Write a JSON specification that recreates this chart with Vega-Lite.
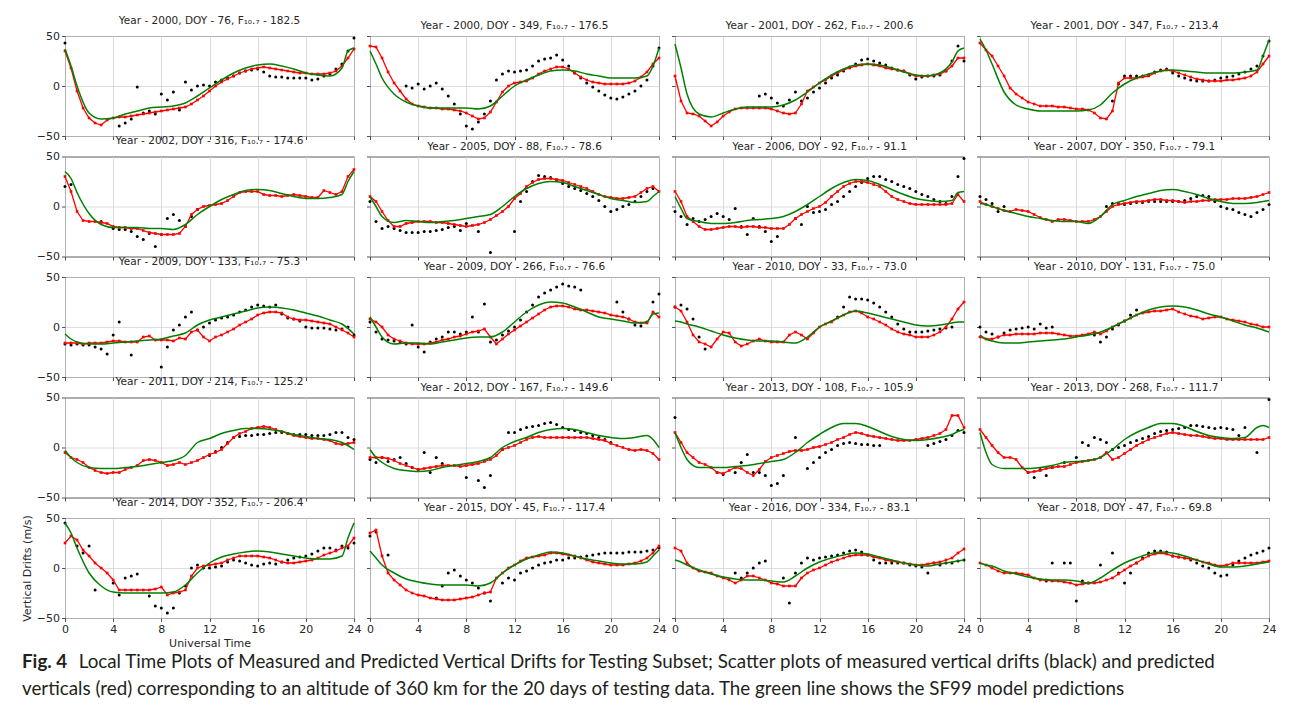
{
"$schema":"https://vega.github.io/schema/vega-lite/v6.json",
"padding":{"left":20,"top":15,"right":5,"bottom":5},
"background":"white",
"title":{"text":"Fig. 4","subtitle":["\u200b\u2003\u2003\u2003\u00a0\u00a0\u00a0Local Time Plots of Measured and Predicted Vertical Drifts for Testing Subset; Scatter plots of measured vertical drifts (black) and predicted","verticals (red) corresponding to an altitude of 360 km for the 20 days of testing data. The green line shows the SF99 model predictions"],"orient":"bottom","anchor":"start","frame":"group","dx":-43,"offset":4,"font":"Lato","fontSize":18.8,"fontWeight":"bold","color":"#231f20","subtitleFont":"Lato","subtitleFontSize":18.8,"subtitleFontWeight":"normal","subtitleColor":"#231f20","subtitlePadding":-18.8,"subtitleLineHeight":27},
"data":{"values":[
{"p":1,"x":0,"k":43,"r":35,"g":37},{"p":1,"x":0.5,"r":18,"g":20},{"p":1,"x":1,"r":-5,"g":0},{"p":1,"x":1.5,"r":-22},{"p":1,"x":2,"r":-32,"g":-27},{"p":1,"x":2.5,"r":-37},{"p":1,"x":3,"r":-39,"g":-33},{"p":1,"x":3.5,"r":-34},{"p":1,"x":4,"r":-32,"g":-32},{"p":1,"x":4.5,"k":-40,"r":-31},{"p":1,"x":5,"k":-37,"r":-31,"g":-28},{"p":1,"x":5.5,"k":-33,"r":-30},{"p":1,"x":6,"k":-1,"r":-29,"g":-25},{"p":1,"x":6.5,"k":-27,"r":-28},{"p":1,"x":7,"k":-25,"r":-27,"g":-22},{"p":1,"x":7.5,"k":-28,"r":-26},{"p":1,"x":8,"k":-8,"r":-25,"g":-21},{"p":1,"x":8.5,"k":-14,"r":-24},{"p":1,"x":9,"k":-6,"r":-23,"g":-20},{"p":1,"x":9.5,"k":-24,"r":-22},{"p":1,"x":10,"k":4,"r":-21,"g":-17},{"p":1,"x":10.5,"k":-4,"r":-18},{"p":1,"x":11,"k":0,"r":-14,"g":-10},{"p":1,"x":11.5,"k":1,"r":-10},{"p":1,"x":12,"k":0,"r":-5,"g":-2},{"p":1,"x":12.5,"k":4,"r":0},{"p":1,"x":13,"k":6,"r":4,"g":6},{"p":1,"x":13.5,"k":8,"r":7},{"p":1,"x":14,"k":10,"r":10,"g":13},{"p":1,"x":14.5,"k":13,"r":13},{"p":1,"x":15,"k":15,"r":15,"g":18},{"p":1,"x":15.5,"k":16,"r":17},{"p":1,"x":16,"k":17,"r":18,"g":21},{"p":1,"x":16.5,"k":14,"r":19},{"p":1,"x":17,"k":10,"r":18,"g":22},{"p":1,"x":17.5,"k":9,"r":17},{"p":1,"x":18,"k":9,"r":16,"g":20},{"p":1,"x":18.5,"k":8,"r":15},{"p":1,"x":19,"k":8,"r":14,"g":17},{"p":1,"x":19.5,"k":8,"r":13},{"p":1,"x":20,"k":8,"r":13,"g":13},{"p":1,"x":20.5,"k":6,"r":12},{"p":1,"x":21,"k":7,"r":12,"g":11},{"p":1,"x":21.5,"k":10,"r":12},{"p":1,"x":22,"k":12,"r":13,"g":10},{"p":1,"x":22.5,"k":17,"r":15},{"p":1,"x":23,"k":22,"r":20,"g":18},{"p":1,"x":23.5,"k":35,"r":28,"g":35},{"p":1,"x":24,"k":48,"r":37,"g":38},
{"p":2,"x":0,"r":40,"g":35},{"p":2,"x":0.5,"r":39,"g":22},{"p":2,"x":1,"r":28,"g":8},{"p":2,"x":1.5,"r":14},{"p":2,"x":2,"r":3,"g":-8},{"p":2,"x":2.5,"r":-5},{"p":2,"x":3,"k":0,"r":-13,"g":-16},{"p":2,"x":3.5,"k":-2,"r":-18},{"p":2,"x":4,"k":2,"r":-20,"g":-20},{"p":2,"x":4.5,"k":-3,"r":-21},{"p":2,"x":5,"k":0,"r":-22,"g":-22},{"p":2,"x":5.5,"k":3,"r":-22},{"p":2,"x":6,"k":-3,"r":-23,"g":-22},{"p":2,"x":6.5,"k":-10,"r":-23},{"p":2,"x":7,"k":-18,"r":-24,"g":-22},{"p":2,"x":7.5,"k":-28,"r":-25},{"p":2,"x":8,"k":-40,"r":-27,"g":-22},{"p":2,"x":8.5,"k":-43,"r":-30},{"p":2,"x":9,"k":-36,"r":-33,"g":-23},{"p":2,"x":9.5,"k":-28,"r":-32},{"p":2,"x":10,"k":-15,"r":-26,"g":-20},{"p":2,"x":10.5,"k":6,"r":-16},{"p":2,"x":11,"k":12,"r":-6,"g":-10},{"p":2,"x":11.5,"k":15,"r":0},{"p":2,"x":12,"k":14,"r":3,"g":0},{"p":2,"x":12.5,"k":15,"r":4},{"p":2,"x":13,"k":16,"r":5,"g":6},{"p":2,"x":13.5,"k":20,"r":8},{"p":2,"x":14,"k":25,"r":12,"g":11},{"p":2,"x":14.5,"k":27,"r":15},{"p":2,"x":15,"k":28,"r":17,"g":15},{"p":2,"x":15.5,"k":31,"r":19},{"p":2,"x":16,"k":26,"r":19,"g":16},{"p":2,"x":16.5,"k":20,"r":17},{"p":2,"x":17,"k":13,"r":13,"g":15},{"p":2,"x":17.5,"k":8,"r":9},{"p":2,"x":18,"k":3,"r":6,"g":12},{"p":2,"x":18.5,"k":-1,"r":4},{"p":2,"x":19,"k":-5,"r":3,"g":10},{"p":2,"x":19.5,"k":-9,"r":2},{"p":2,"x":20,"k":-12,"r":2,"g":8},{"p":2,"x":20.5,"k":-13,"r":2},{"p":2,"x":21,"k":-11,"r":2,"g":8},{"p":2,"x":21.5,"k":-8,"r":3},{"p":2,"x":22,"k":-5,"r":5,"g":8},{"p":2,"x":22.5,"k":0,"r":9},{"p":2,"x":23,"k":6,"r":14,"g":10},{"p":2,"x":23.5,"k":20,"r":22,"g":20},{"p":2,"x":24,"k":38,"r":28,"g":38},
{"p":3,"x":0,"r":10,"g":42},{"p":3,"x":0.5,"r":-15,"g":18},{"p":3,"x":1,"r":-27,"g":-8},{"p":3,"x":1.5,"r":-28},{"p":3,"x":2,"r":-30,"g":-28},{"p":3,"x":2.5,"r":-35},{"p":3,"x":3,"r":-40,"g":-31},{"p":3,"x":3.5,"r":-36},{"p":3,"x":4,"r":-30,"g":-27},{"p":3,"x":4.5,"r":-26},{"p":3,"x":5,"r":-23,"g":-23},{"p":3,"x":5.5,"r":-22},{"p":3,"x":6,"r":-22,"g":-21},{"p":3,"x":6.5,"r":-22},{"p":3,"x":7,"k":-10,"r":-22,"g":-21},{"p":3,"x":7.5,"k":-8,"r":-22},{"p":3,"x":8,"k":-12,"r":-23,"g":-21},{"p":3,"x":8.5,"k":-17,"r":-25},{"p":3,"x":9,"k":-20,"r":-27,"g":-19},{"p":3,"x":9.5,"k":-14,"r":-28},{"p":3,"x":10,"k":-6,"r":-27,"g":-14},{"p":3,"x":10.5,"k":-15,"r":-18},{"p":3,"x":11,"k":-12,"r":-5,"g":-6},{"p":3,"x":11.5,"k":-6,"r":-1},{"p":3,"x":12,"k":-2,"r":3,"g":3},{"p":3,"x":12.5,"k":3,"r":6},{"p":3,"x":13,"k":8,"r":10,"g":11},{"p":3,"x":13.5,"k":11,"r":13},{"p":3,"x":14,"k":15,"r":16,"g":17},{"p":3,"x":14.5,"k":19,"r":18},{"p":3,"x":15,"k":22,"r":20,"g":21},{"p":3,"x":15.5,"k":26,"r":21},{"p":3,"x":16,"k":27,"r":22,"g":22},{"p":3,"x":16.5,"k":25,"r":21},{"p":3,"x":17,"k":23,"r":20,"g":21},{"p":3,"x":17.5,"k":21,"r":18},{"p":3,"x":18,"k":18,"r":17,"g":18},{"p":3,"x":18.5,"k":16,"r":16},{"p":3,"x":19,"k":15,"r":15,"g":14},{"p":3,"x":19.5,"k":11,"r":12},{"p":3,"x":20,"k":7,"r":10,"g":11},{"p":3,"x":20.5,"k":9,"r":10},{"p":3,"x":21,"k":10,"r":10,"g":10},{"p":3,"x":21.5,"k":10,"r":11},{"p":3,"x":22,"k":11,"r":12,"g":13},{"p":3,"x":22.5,"k":15,"r":15},{"p":3,"x":23,"k":25,"r":20,"g":24},{"p":3,"x":23.5,"k":40,"r":28,"g":35},{"p":3,"x":24,"k":25,"r":28,"g":38},
{"p":4,"x":0,"r":43,"g":47},{"p":4,"x":0.5,"r":36,"g":36},{"p":4,"x":1,"r":30,"g":22},{"p":4,"x":1.5,"r":20},{"p":4,"x":2,"r":10,"g":-6},{"p":4,"x":2.5,"r":-2},{"p":4,"x":3,"r":-8,"g":-19},{"p":4,"x":3.5,"r":-12},{"p":4,"x":4,"r":-16,"g":-23},{"p":4,"x":4.5,"r":-18},{"p":4,"x":5,"r":-20,"g":-25},{"p":4,"x":5.5,"r":-20},{"p":4,"x":6,"r":-20,"g":-25},{"p":4,"x":6.5,"r":-21},{"p":4,"x":7,"r":-21,"g":-25},{"p":4,"x":7.5,"r":-22},{"p":4,"x":8,"r":-23,"g":-25},{"p":4,"x":8.5,"r":-23},{"p":4,"x":9,"r":-24,"g":-24},{"p":4,"x":9.5,"r":-27},{"p":4,"x":10,"r":-32,"g":-19},{"p":4,"x":10.5,"r":-33},{"p":4,"x":11,"k":-15,"r":-25,"g":-7},{"p":4,"x":11.5,"k":2,"r":3},{"p":4,"x":12,"k":10,"r":8,"g":2},{"p":4,"x":12.5,"k":10,"r":8},{"p":4,"x":13,"k":10,"r":8,"g":8},{"p":4,"x":13.5,"k":10,"r":9},{"p":4,"x":14,"k":11,"r":10,"g":12},{"p":4,"x":14.5,"k":14,"r":13},{"p":4,"x":15,"k":16,"r":15,"g":15},{"p":4,"x":15.5,"k":17,"r":16},{"p":4,"x":16,"k":13,"r":15,"g":16},{"p":4,"x":16.5,"k":10,"r":13},{"p":4,"x":17,"k":8,"r":11,"g":15},{"p":4,"x":17.5,"k":6,"r":9},{"p":4,"x":18,"k":5,"r":7,"g":14},{"p":4,"x":18.5,"k":5,"r":6},{"p":4,"x":19,"k":5,"r":5,"g":13},{"p":4,"x":19.5,"k":6,"r":5},{"p":4,"x":20,"k":8,"r":5,"g":13},{"p":4,"x":20.5,"k":9,"r":6},{"p":4,"x":21,"k":10,"r":6,"g":13},{"p":4,"x":21.5,"k":12,"r":7},{"p":4,"x":22,"k":14,"r":8,"g":14},{"p":4,"x":22.5,"k":17,"r":10},{"p":4,"x":23,"k":20,"r":14,"g":16},{"p":4,"x":23.5,"k":30,"r":22,"g":30},{"p":4,"x":24,"k":45,"r":30,"g":46},
{"p":5,"x":0,"k":20,"r":30,"g":35},{"p":5,"x":0.5,"k":22,"r":15,"g":28},{"p":5,"x":1,"r":-5,"g":14},{"p":5,"x":1.5,"r":-14},{"p":5,"x":2,"r":-15,"g":-7},{"p":5,"x":2.5,"r":-15},{"p":5,"x":3,"k":-15,"r":-16,"g":-18},{"p":5,"x":3.5,"r":-17},{"p":5,"x":4,"k":-22,"r":-20,"g":-21},{"p":5,"x":4.5,"k":-23,"r":-21},{"p":5,"x":5,"k":-23,"r":-21,"g":-21},{"p":5,"x":5.5,"k":-25,"r":-22},{"p":5,"x":6,"k":-30,"r":-22,"g":-21},{"p":5,"x":6.5,"k":-33,"r":-24},{"p":5,"x":7,"k":-27,"r":-26,"g":-22},{"p":5,"x":7.5,"k":-40,"r":-27},{"p":5,"x":8,"k":-28,"r":-28,"g":-22},{"p":5,"x":8.5,"k":-12,"r":-28},{"p":5,"x":9,"k":-8,"r":-28,"g":-23},{"p":5,"x":9.5,"k":-14,"r":-27},{"p":5,"x":10,"k":-20,"r":-20,"g":-18},{"p":5,"x":10.5,"k":-10,"r":-8},{"p":5,"x":11,"k":-3,"r":-3,"g":-8},{"p":5,"x":11.5,"r":0},{"p":5,"x":12,"r":1,"g":0},{"p":5,"x":12.5,"r":2},{"p":5,"x":13,"r":3,"g":7},{"p":5,"x":13.5,"r":6},{"p":5,"x":14,"r":10,"g":12},{"p":5,"x":14.5,"r":14},{"p":5,"x":15,"r":15,"g":16},{"p":5,"x":15.5,"r":15},{"p":5,"x":16,"r":15,"g":17},{"p":5,"x":16.5,"r":12},{"p":5,"x":17,"r":11,"g":16},{"p":5,"x":17.5,"r":11},{"p":5,"x":18,"r":10,"g":13},{"p":5,"x":18.5,"r":11},{"p":5,"x":19,"r":12,"g":10},{"p":5,"x":19.5,"r":11},{"p":5,"x":20,"r":10,"g":8},{"p":5,"x":20.5,"r":9},{"p":5,"x":21,"r":9,"g":8},{"p":5,"x":21.5,"r":16},{"p":5,"x":22,"r":14,"g":9},{"p":5,"x":22.5,"r":12},{"p":5,"x":23,"r":15,"g":12},{"p":5,"x":23.5,"r":30,"g":25},{"p":5,"x":24,"r":37,"g":35},
{"p":6,"x":0,"k":5,"r":10,"g":10},{"p":6,"x":0.5,"k":-15,"r":5,"g":0},{"p":6,"x":1,"k":-22,"r":-5,"g":-10},{"p":6,"x":1.5,"k":-20,"r":-14},{"p":6,"x":2,"k":-22,"r":-20,"g":-16},{"p":6,"x":2.5,"k":-24,"r":-20},{"p":6,"x":3,"k":-26,"r":-17,"g":-14},{"p":6,"x":3.5,"k":-26,"r":-16},{"p":6,"x":4,"k":-26,"r":-15,"g":-15},{"p":6,"x":4.5,"k":-25,"r":-15},{"p":6,"x":5,"k":-25,"r":-15,"g":-16},{"p":6,"x":5.5,"k":-24,"r":-16},{"p":6,"x":6,"k":-23,"r":-16,"g":-15},{"p":6,"x":6.5,"k":-21,"r":-17},{"p":6,"x":7,"k":-20,"r":-18,"g":-14},{"p":6,"x":7.5,"k":-24,"r":-19},{"p":6,"x":8,"k":-17,"r":-20,"g":-12},{"p":6,"x":8.5,"r":-19},{"p":6,"x":9,"k":-25,"r":-18,"g":-10},{"p":6,"x":9.5,"r":-16},{"p":6,"x":10,"k":-46,"r":-13,"g":-8},{"p":6,"x":10.5,"r":-9},{"p":6,"x":11,"r":-5,"g":0},{"p":6,"x":11.5,"r":0},{"p":6,"x":12,"k":-25,"r":8,"g":10},{"p":6,"x":12.5,"k":5,"r":13},{"p":6,"x":13,"k":15,"r":20,"g":18},{"p":6,"x":13.5,"k":25,"r":24},{"p":6,"x":14,"k":31,"r":27,"g":23},{"p":6,"x":14.5,"k":30,"r":28},{"p":6,"x":15,"k":29,"r":28,"g":25},{"p":6,"x":15.5,"k":26,"r":27},{"p":6,"x":16,"k":23,"r":26,"g":24},{"p":6,"x":16.5,"k":20,"r":24},{"p":6,"x":17,"k":18,"r":22,"g":20},{"p":6,"x":17.5,"k":16,"r":20},{"p":6,"x":18,"k":13,"r":18,"g":16},{"p":6,"x":18.5,"k":10,"r":15},{"p":6,"x":19,"k":6,"r":12,"g":12},{"p":6,"x":19.5,"k":0,"r":10},{"p":6,"x":20,"k":-5,"r":9,"g":8},{"p":6,"x":20.5,"k":-3,"r":8},{"p":6,"x":21,"k":0,"r":8,"g":6},{"p":6,"x":21.5,"k":2,"r":9},{"p":6,"x":22,"k":5,"r":10,"g":4},{"p":6,"x":22.5,"k":10,"r":14},{"p":6,"x":23,"k":15,"r":18,"g":5},{"p":6,"x":23.5,"k":18,"r":20,"g":10},{"p":6,"x":24,"r":15,"g":15},
{"p":7,"x":0,"k":-5,"r":15,"g":10},{"p":7,"x":0.5,"k":-10,"r":5,"g":-2},{"p":7,"x":1,"k":-18,"r":-10,"g":-12},{"p":7,"x":1.5,"k":-12,"r":-15},{"p":7,"x":2,"k":-15,"r":-20,"g":-15},{"p":7,"x":2.5,"k":-13,"r":-23},{"p":7,"x":3,"k":-10,"r":-23,"g":-17},{"p":7,"x":3.5,"k":-7,"r":-22},{"p":7,"x":4,"k":-10,"r":-21,"g":-17},{"p":7,"x":4.5,"k":-13,"r":-20},{"p":7,"x":5,"k":-2,"r":-20,"g":-16},{"p":7,"x":5.5,"k":-20,"r":-21},{"p":7,"x":6,"k":-28,"r":-20,"g":-14},{"p":7,"x":6.5,"k":-12,"r":-20},{"p":7,"x":7,"k":-20,"r":-21,"g":-13},{"p":7,"x":7.5,"k":-25,"r":-21},{"p":7,"x":8,"k":-35,"r":-22,"g":-12},{"p":7,"x":8.5,"k":-30,"r":-22},{"p":7,"x":9,"r":-22,"g":-10},{"p":7,"x":9.5,"r":-18},{"p":7,"x":10,"k":-12,"r":-12,"g":-5},{"p":7,"x":10.5,"k":-18,"r":-8},{"p":7,"x":11,"k":0,"r":-5,"g":2},{"p":7,"x":11.5,"k":-6,"r":-2},{"p":7,"x":12,"k":-5,"r":0,"g":10},{"p":7,"x":12.5,"k":-3,"r":4},{"p":7,"x":13,"k":2,"r":10,"g":18},{"p":7,"x":13.5,"k":5,"r":15},{"p":7,"x":14,"k":10,"r":20,"g":24},{"p":7,"x":14.5,"k":15,"r":23},{"p":7,"x":15,"k":20,"r":25,"g":27},{"p":7,"x":15.5,"k":24,"r":25},{"p":7,"x":16,"k":28,"r":24,"g":26},{"p":7,"x":16.5,"k":30,"r":22},{"p":7,"x":17,"k":30,"r":20,"g":22},{"p":7,"x":17.5,"k":27,"r":15},{"p":7,"x":18,"k":25,"r":10,"g":17},{"p":7,"x":18.5,"k":22,"r":7},{"p":7,"x":19,"k":20,"r":5,"g":12},{"p":7,"x":19.5,"k":18,"r":3},{"p":7,"x":20,"k":15,"r":2,"g":8},{"p":7,"x":20.5,"k":12,"r":2},{"p":7,"x":21,"k":10,"r":2,"g":6},{"p":7,"x":21.5,"k":7,"r":2},{"p":7,"x":22,"k":5,"r":2,"g":5},{"p":7,"x":22.5,"k":3,"r":2},{"p":7,"x":23,"k":10,"r":3,"g":6},{"p":7,"x":23.5,"k":30,"r":12,"g":14},{"p":7,"x":24,"k":48,"r":5,"g":15},
{"p":8,"x":0,"k":10,"r":5,"g":3},{"p":8,"x":0.5,"k":7,"r":2,"g":2},{"p":8,"x":1,"k":3,"r":0,"g":0},{"p":8,"x":1.5,"k":-5,"r":-2},{"p":8,"x":2,"k":0,"r":-4,"g":-4},{"p":8,"x":2.5,"r":-5},{"p":8,"x":3,"r":-3,"g":-7},{"p":8,"x":3.5,"r":-4},{"p":8,"x":4,"r":-5,"g":-10},{"p":8,"x":4.5,"r":-8},{"p":8,"x":5,"r":-11,"g":-12},{"p":8,"x":5.5,"r":-13},{"p":8,"x":6,"r":-15,"g":-14},{"p":8,"x":6.5,"r":-13},{"p":8,"x":7,"r":-13,"g":-15},{"p":8,"x":7.5,"r":-14},{"p":8,"x":8,"r":-15,"g":-15},{"p":8,"x":8.5,"r":-15},{"p":8,"x":9,"r":-15,"g":-17},{"p":8,"x":9.5,"r":-13},{"p":8,"x":10,"r":-10,"g":-10},{"p":8,"x":10.5,"k":0,"r":-5},{"p":8,"x":11,"k":3,"r":0,"g":2},{"p":8,"x":11.5,"k":3,"r":2},{"p":8,"x":12,"k":2,"r":3,"g":6},{"p":8,"x":12.5,"k":3,"r":4},{"p":8,"x":13,"k":4,"r":5,"g":10},{"p":8,"x":13.5,"k":4,"r":5},{"p":8,"x":14,"k":5,"r":6,"g":13},{"p":8,"x":14.5,"k":5,"r":7},{"p":8,"x":15,"k":5,"r":7,"g":16},{"p":8,"x":15.5,"k":5,"r":6},{"p":8,"x":16,"k":5,"r":6,"g":17},{"p":8,"x":16.5,"k":5,"r":5},{"p":8,"x":17,"k":6,"r":4,"g":15},{"p":8,"x":17.5,"k":8,"r":5},{"p":8,"x":18,"k":10,"r":5,"g":12},{"p":8,"x":18.5,"k":11,"r":6},{"p":8,"x":19,"k":10,"r":6,"g":8},{"p":8,"x":19.5,"k":5,"r":7},{"p":8,"x":20,"k":0,"r":7,"g":5},{"p":8,"x":20.5,"k":-2,"r":7},{"p":8,"x":21,"k":-3,"r":8,"g":3},{"p":8,"x":21.5,"k":-6,"r":8},{"p":8,"x":22,"k":-8,"r":8,"g":3},{"p":8,"x":22.5,"k":-10,"r":9},{"p":8,"x":23,"k":-6,"r":10,"g":4},{"p":8,"x":23.5,"k":-3,"r":12,"g":5},{"p":8,"x":24,"k":2,"r":14,"g":6},
{"p":9,"x":0,"k":-17,"r":-16,"g":-7},{"p":9,"x":0.5,"k":-18,"r":-16,"g":-12},{"p":9,"x":1,"k":-17,"r":-16,"g":-15},{"p":9,"x":1.5,"k":-18,"r":-17},{"p":9,"x":2,"k":-18,"r":-16,"g":-17},{"p":9,"x":2.5,"k":-20,"r":-16},{"p":9,"x":3,"k":-22,"r":-16,"g":-17},{"p":9,"x":3.5,"k":-27,"r":-15},{"p":9,"x":4,"k":-8,"r":-14,"g":-16},{"p":9,"x":4.5,"k":5,"r":-14},{"p":9,"x":5,"r":-15,"g":-15},{"p":9,"x":5.5,"k":-28,"r":-15},{"p":9,"x":6,"r":-15,"g":-14},{"p":9,"x":6.5,"r":-10},{"p":9,"x":7,"r":-9,"g":-13},{"p":9,"x":7.5,"r":-13},{"p":9,"x":8,"k":-40,"r":-13,"g":-12},{"p":9,"x":8.5,"k":-20,"r":-13},{"p":9,"x":9,"k":-3,"r":-14,"g":-9},{"p":9,"x":9.5,"k":2,"r":-11},{"p":9,"x":10,"k":10,"r":-12,"g":-6},{"p":9,"x":10.5,"k":15,"r":-5},{"p":9,"x":11,"k":-3,"r":-3,"g":2},{"p":9,"x":11.5,"k":0,"r":-10},{"p":9,"x":12,"k":4,"r":-14,"g":7},{"p":9,"x":12.5,"k":7,"r":-10},{"p":9,"x":13,"k":9,"r":-8,"g":10},{"p":9,"x":13.5,"k":10,"r":-5},{"p":9,"x":14,"k":12,"r":-2,"g":13},{"p":9,"x":14.5,"k":15,"r":2},{"p":9,"x":15,"k":17,"r":5,"g":16},{"p":9,"x":15.5,"k":20,"r":8},{"p":9,"x":16,"k":22,"r":12,"g":19},{"p":9,"x":16.5,"k":21,"r":14},{"p":9,"x":17,"k":20,"r":15,"g":20},{"p":9,"x":17.5,"k":22,"r":15},{"p":9,"x":18,"k":13,"r":14,"g":19},{"p":9,"x":18.5,"k":9,"r":10},{"p":9,"x":19,"k":8,"r":8,"g":17},{"p":9,"x":19.5,"k":6,"r":7},{"p":9,"x":20,"k":0,"r":7,"g":14},{"p":9,"x":20.5,"k":-1,"r":6},{"p":9,"x":21,"k":-1,"r":5,"g":11},{"p":9,"x":21.5,"k":-1,"r":4},{"p":9,"x":22,"k":-2,"r":3,"g":7},{"p":9,"x":22.5,"k":-3,"r":0},{"p":9,"x":23,"k":-2,"r":-3,"g":3},{"p":9,"x":23.5,"k":0,"r":-6},{"p":9,"x":24,"k":-8,"r":-10,"g":-7},
{"p":10,"x":0,"k":5,"r":8,"g":10},{"p":10,"x":0.5,"k":-5,"r":5,"g":0},{"p":10,"x":1,"k":-12,"r":0,"g":-10},{"p":10,"x":1.5,"k":-13,"r":-8},{"p":10,"x":2,"k":-14,"r":-12,"g":-17},{"p":10,"x":2.5,"k":-15,"r":-14},{"p":10,"x":3,"k":-17,"r":-16,"g":-16},{"p":10,"x":3.5,"k":2,"r":-17},{"p":10,"x":4,"k":-20,"r":-17,"g":-16},{"p":10,"x":4.5,"k":-25,"r":-17},{"p":10,"x":5,"k":-15,"r":-16,"g":-17},{"p":10,"x":5.5,"k":-12,"r":-15},{"p":10,"x":6,"k":-10,"r":-13,"g":-15},{"p":10,"x":6.5,"k":-5,"r":-12},{"p":10,"x":7,"k":-5,"r":-10,"g":-13},{"p":10,"x":7.5,"k":-7,"r":-9},{"p":10,"x":8,"k":-5,"r":-7,"g":-11},{"p":10,"x":8.5,"k":10,"r":-5},{"p":10,"x":9,"k":-5,"r":-4,"g":-10},{"p":10,"x":9.5,"k":23,"r":-2},{"p":10,"x":10,"k":-15,"r":-10,"g":-10},{"p":10,"x":10.5,"k":-13,"r":-17},{"p":10,"x":11,"k":-8,"r":-12,"g":-5},{"p":10,"x":11.5,"k":-4,"r":-7},{"p":10,"x":12,"k":0,"r":-3,"g":5},{"p":10,"x":12.5,"k":7,"r":1},{"p":10,"x":13,"k":15,"r":5,"g":15},{"p":10,"x":13.5,"k":22,"r":9},{"p":10,"x":14,"k":30,"r":13,"g":22},{"p":10,"x":14.5,"k":34,"r":17},{"p":10,"x":15,"k":37,"r":20,"g":25},{"p":10,"x":15.5,"k":40,"r":21},{"p":10,"x":16,"k":43,"r":21,"g":24},{"p":10,"x":16.5,"k":41,"r":20},{"p":10,"x":17,"k":40,"r":18,"g":20},{"p":10,"x":17.5,"k":37,"r":17},{"p":10,"x":18,"r":17,"g":15},{"p":10,"x":18.5,"r":16},{"p":10,"x":19,"r":15,"g":10},{"p":10,"x":19.5,"r":14},{"p":10,"x":20,"r":12,"g":8},{"p":10,"x":20.5,"k":25,"r":11},{"p":10,"x":21,"k":15,"r":10,"g":6},{"p":10,"x":21.5,"k":8,"r":8},{"p":10,"x":22,"k":2,"r":5,"g":4},{"p":10,"x":22.5,"k":1,"r":4},{"p":10,"x":23,"k":5,"r":4,"g":5},{"p":10,"x":23.5,"k":25,"r":15,"g":13},{"p":10,"x":24,"k":33,"r":10,"g":14},
{"p":11,"x":0,"k":20,"r":20,"g":6},{"p":11,"x":0.5,"k":22,"r":16,"g":5},{"p":11,"x":1,"k":18,"r":5,"g":3},{"p":11,"x":1.5,"k":8,"r":-8},{"p":11,"x":2,"k":-10,"r":-15,"g":0},{"p":11,"x":2.5,"k":-22,"r":-17},{"p":11,"x":3,"r":-20,"g":-4},{"p":11,"x":3.5,"r":-12},{"p":11,"x":4,"r":-5,"g":-8},{"p":11,"x":4.5,"r":-6},{"p":11,"x":5,"r":-15,"g":-11},{"p":11,"x":5.5,"r":-19},{"p":11,"x":6,"r":-17,"g":-13},{"p":11,"x":6.5,"r":-14},{"p":11,"x":7,"r":-12,"g":-14},{"p":11,"x":7.5,"r":-14},{"p":11,"x":8,"r":-15,"g":-14},{"p":11,"x":8.5,"r":-15},{"p":11,"x":9,"r":-15,"g":-15},{"p":11,"x":9.5,"r":-8},{"p":11,"x":10,"r":-5,"g":-16},{"p":11,"x":10.5,"r":-8},{"p":11,"x":11,"r":-12,"g":-10},{"p":11,"x":11.5,"r":-6},{"p":11,"x":12,"r":0,"g":0},{"p":11,"x":12.5,"r":3},{"p":11,"x":13,"r":5,"g":6},{"p":11,"x":13.5,"k":10,"r":9},{"p":11,"x":14,"k":20,"r":12,"g":12},{"p":11,"x":14.5,"k":30,"r":15},{"p":11,"x":15,"k":28,"r":16,"g":16},{"p":11,"x":15.5,"k":28,"r":14},{"p":11,"x":16,"k":27,"r":10,"g":14},{"p":11,"x":16.5,"k":24,"r":8},{"p":11,"x":17,"k":20,"r":5,"g":11},{"p":11,"x":17.5,"k":15,"r":2},{"p":11,"x":18,"k":10,"r":-2,"g":8},{"p":11,"x":18.5,"k":3,"r":-5},{"p":11,"x":19,"k":-2,"r":-7,"g":5},{"p":11,"x":19.5,"k":-5,"r":-8},{"p":11,"x":20,"k":-5,"r":-10,"g":2},{"p":11,"x":20.5,"k":-5,"r":-10},{"p":11,"x":21,"k":-4,"r":-10,"g":1},{"p":11,"x":21.5,"k":-3,"r":-8},{"p":11,"x":22,"k":-2,"r":-5,"g":2},{"p":11,"x":22.5,"k":-1,"r":0},{"p":11,"x":23,"k":0,"r":8,"g":4},{"p":11,"x":23.5,"r":18,"g":5},{"p":11,"x":24,"r":25,"g":5},
{"p":12,"x":0,"k":0,"r":-10,"g":-8},{"p":12,"x":0.5,"k":-5,"r":-12,"g":-12},{"p":12,"x":1,"k":-7,"r":-12,"g":-14},{"p":12,"x":1.5,"k":-10,"r":-10},{"p":12,"x":2,"k":-6,"r":-8,"g":-16},{"p":12,"x":2.5,"k":-3,"r":-8},{"p":12,"x":3,"k":-2,"r":-7,"g":-16},{"p":12,"x":3.5,"k":-1,"r":-7},{"p":12,"x":4,"k":0,"r":-7,"g":-15},{"p":12,"x":4.5,"k":-2,"r":-7},{"p":12,"x":5,"k":3,"r":-6,"g":-14},{"p":12,"x":5.5,"k":-1,"r":-6},{"p":12,"x":6,"k":0,"r":-6,"g":-13},{"p":12,"x":6.5,"r":-7},{"p":12,"x":7,"r":-8,"g":-12},{"p":12,"x":7.5,"r":-9},{"p":12,"x":8,"r":-9,"g":-10},{"p":12,"x":8.5,"r":-8},{"p":12,"x":9,"r":-7,"g":-8},{"p":12,"x":9.5,"k":-8,"r":-5},{"p":12,"x":10,"k":-15,"r":-7,"g":-5},{"p":12,"x":10.5,"k":-10,"r":-4},{"p":12,"x":11,"k":-2,"r":0,"g":0},{"p":12,"x":11.5,"k":2,"r":3},{"p":12,"x":12,"k":6,"r":6,"g":6},{"p":12,"x":12.5,"k":12,"r":9},{"p":12,"x":13,"k":17,"r":12,"g":12},{"p":12,"x":13.5,"r":14},{"p":12,"x":14,"r":15,"g":17},{"p":12,"x":14.5,"r":16},{"p":12,"x":15,"r":16,"g":20},{"p":12,"x":15.5,"r":17},{"p":12,"x":16,"r":18,"g":21},{"p":12,"x":16.5,"r":15},{"p":12,"x":17,"r":13,"g":20},{"p":12,"x":17.5,"r":11},{"p":12,"x":18,"r":10,"g":17},{"p":12,"x":18.5,"r":8},{"p":12,"x":19,"r":9,"g":13},{"p":12,"x":19.5,"r":10},{"p":12,"x":20,"r":10,"g":10},{"p":12,"x":20.5,"r":8},{"p":12,"x":21,"r":7,"g":6},{"p":12,"x":21.5,"r":6},{"p":12,"x":22,"r":5,"g":2},{"p":12,"x":22.5,"r":3},{"p":12,"x":23,"r":2,"g":-1},{"p":12,"x":23.5,"r":0},{"p":12,"x":24,"r":0,"g":-5},
{"p":13,"x":0,"r":-5,"g":-3},{"p":13,"x":0.5,"r":-10,"g":-10},{"p":13,"x":1,"r":-12,"g":-15},{"p":13,"x":1.5,"r":-15},{"p":13,"x":2,"r":-20,"g":-20},{"p":13,"x":2.5,"r":-23},{"p":13,"x":3,"r":-25,"g":-21},{"p":13,"x":3.5,"r":-26},{"p":13,"x":4,"r":-25,"g":-21},{"p":13,"x":4.5,"r":-25},{"p":13,"x":5,"r":-22,"g":-20},{"p":13,"x":5.5,"r":-20},{"p":13,"x":6,"r":-18,"g":-19},{"p":13,"x":6.5,"r":-13},{"p":13,"x":7,"r":-12,"g":-17},{"p":13,"x":7.5,"r":-13},{"p":13,"x":8,"r":-15,"g":-15},{"p":13,"x":8.5,"r":-18},{"p":13,"x":9,"r":-17,"g":-13},{"p":13,"x":9.5,"r":-15},{"p":13,"x":10,"r":-17,"g":-8},{"p":13,"x":10.5,"r":-15},{"p":13,"x":11,"r":-13,"g":5},{"p":13,"x":11.5,"r":-10},{"p":13,"x":12,"k":-8,"r":-7,"g":9},{"p":13,"x":12.5,"k":-4,"r":-5},{"p":13,"x":13,"k":0,"r":-2,"g":14},{"p":13,"x":13.5,"k":5,"r":4},{"p":13,"x":14,"k":10,"r":10,"g":17},{"p":13,"x":14.5,"k":11,"r":14},{"p":13,"x":15,"k":12,"r":16,"g":19},{"p":13,"x":15.5,"k":12,"r":19},{"p":13,"x":16,"k":13,"r":20,"g":19},{"p":13,"x":16.5,"k":13,"r":21},{"p":13,"x":17,"k":14,"r":20,"g":18},{"p":13,"x":17.5,"k":15,"r":18},{"p":13,"x":18,"k":15,"r":16,"g":16},{"p":13,"x":18.5,"k":14,"r":14},{"p":13,"x":19,"k":13,"r":12,"g":13},{"p":13,"x":19.5,"k":13,"r":11},{"p":13,"x":20,"k":13,"r":10,"g":11},{"p":13,"x":20.5,"k":12,"r":9},{"p":13,"x":21,"k":12,"r":9,"g":9},{"p":13,"x":21.5,"k":12,"r":8},{"p":13,"x":22,"k":13,"r":7,"g":8},{"p":13,"x":22.5,"k":15,"r":4},{"p":13,"x":23,"k":15,"r":3,"g":5},{"p":13,"x":23.5,"k":10,"r":4},{"p":13,"x":24,"k":8,"r":5,"g":-2},
{"p":14,"x":0,"k":-12,"r":-10,"g":-2},{"p":14,"x":0.5,"k":-15,"r":-10,"g":-10},{"p":14,"x":1,"k":-10,"r":-10,"g":-15},{"p":14,"x":1.5,"k":-14,"r":-11},{"p":14,"x":2,"k":-12,"r":-13,"g":-21},{"p":14,"x":2.5,"k":-10,"r":-16},{"p":14,"x":3,"k":-16,"r":-18,"g":-23},{"p":14,"x":3.5,"k":-20,"r":-20},{"p":14,"x":4,"k":-22,"r":-22,"g":-24},{"p":14,"x":4.5,"k":-5,"r":-21},{"p":14,"x":5,"k":-25,"r":-20,"g":-23},{"p":14,"x":5.5,"k":-10,"r":-19},{"p":14,"x":6,"k":-16,"r":-18,"g":-20},{"p":14,"x":6.5,"r":-18},{"p":14,"x":7,"r":-18,"g":-18},{"p":14,"x":7.5,"r":-19},{"p":14,"x":8,"k":-30,"r":-18,"g":-16},{"p":14,"x":8.5,"r":-17},{"p":14,"x":9,"k":-33,"r":-16,"g":-14},{"p":14,"x":9.5,"k":-40,"r":-14},{"p":14,"x":10,"k":-28,"r":-12,"g":-10},{"p":14,"x":10.5,"r":-8},{"p":14,"x":11,"k":-2,"r":-2,"g":0},{"p":14,"x":11.5,"k":15,"r":0},{"p":14,"x":12,"k":15,"r":2,"g":6},{"p":14,"x":12.5,"k":18,"r":5},{"p":14,"x":13,"k":20,"r":8,"g":10},{"p":14,"x":13.5,"k":21,"r":10},{"p":14,"x":14,"k":22,"r":11,"g":15},{"p":14,"x":14.5,"k":24,"r":10},{"p":14,"x":15,"k":25,"r":10,"g":18},{"p":14,"x":15.5,"k":23,"r":10},{"p":14,"x":16,"k":20,"r":10,"g":19},{"p":14,"x":16.5,"k":18,"r":10},{"p":14,"x":17,"k":17,"r":10,"g":18},{"p":14,"x":17.5,"k":15,"r":10},{"p":14,"x":18,"k":14,"r":10,"g":15},{"p":14,"x":18.5,"k":12,"r":9},{"p":14,"x":19,"k":10,"r":8,"g":12},{"p":14,"x":19.5,"k":8,"r":7},{"p":14,"x":20,"k":5,"r":4,"g":10},{"p":14,"x":20.5,"r":2},{"p":14,"x":21,"r":0,"g":9},{"p":14,"x":21.5,"r":-2},{"p":14,"x":22,"r":-3,"g":10},{"p":14,"x":22.5,"r":-2},{"p":14,"x":23,"r":-3,"g":12},{"p":14,"x":23.5,"r":-6,"g":8},{"p":14,"x":24,"r":-12,"g":0},
{"p":15,"x":0,"k":30,"r":15,"g":15},{"p":15,"x":0.5,"r":5,"g":0},{"p":15,"x":1,"r":-5,"g":-12},{"p":15,"x":1.5,"r":-10},{"p":15,"x":2,"r":-15,"g":-20},{"p":15,"x":2.5,"r":-17},{"p":15,"x":3,"r":-20,"g":-20},{"p":15,"x":3.5,"k":-25,"r":-25},{"p":15,"x":4,"k":-27,"r":-26,"g":-20},{"p":15,"x":4.5,"r":-23},{"p":15,"x":5,"k":-25,"r":-20,"g":-19},{"p":15,"x":5.5,"k":-15,"r":-21},{"p":15,"x":6,"k":-7,"r":-25,"g":-18},{"p":15,"x":6.5,"k":-25,"r":-28},{"p":15,"x":7,"k":-25,"r":-22,"g":-16},{"p":15,"x":7.5,"k":-28,"r":-14},{"p":15,"x":8,"k":-38,"r":-10,"g":-14},{"p":15,"x":8.5,"k":-36,"r":-8},{"p":15,"x":9,"k":-28,"r":-6,"g":-12},{"p":15,"x":9.5,"r":-4},{"p":15,"x":10,"k":10,"r":-3,"g":-5},{"p":15,"x":10.5,"r":-3},{"p":15,"x":11,"k":-21,"r":-2,"g":5},{"p":15,"x":11.5,"k":-15,"r":0},{"p":15,"x":12,"k":-10,"r":1,"g":13},{"p":15,"x":12.5,"k":-5,"r":3},{"p":15,"x":13,"k":-2,"r":5,"g":20},{"p":15,"x":13.5,"k":2,"r":8},{"p":15,"x":14,"k":4,"r":10,"g":24},{"p":15,"x":14.5,"k":5,"r":13},{"p":15,"x":15,"k":4,"r":15,"g":24},{"p":15,"x":15.5,"k":3,"r":14},{"p":15,"x":16,"k":3,"r":12,"g":21},{"p":15,"x":16.5,"k":2,"r":11},{"p":15,"x":17,"k":2,"r":10,"g":16},{"p":15,"x":17.5,"r":9},{"p":15,"x":18,"r":8,"g":11},{"p":15,"x":18.5,"r":7},{"p":15,"x":19,"r":7,"g":8},{"p":15,"x":19.5,"r":7},{"p":15,"x":20,"r":8,"g":7},{"p":15,"x":20.5,"r":9},{"p":15,"x":21,"k":2,"r":10,"g":8},{"p":15,"x":21.5,"k":4,"r":12},{"p":15,"x":22,"k":6,"r":14,"g":10},{"p":15,"x":22.5,"k":8,"r":18},{"p":15,"x":23,"k":12,"r":32,"g":13},{"p":15,"x":23.5,"k":17,"r":32,"g":16},{"p":15,"x":24,"k":15,"r":20,"g":18},
{"p":16,"x":0,"r":18,"g":15},{"p":16,"x":0.5,"r":10,"g":-5},{"p":16,"x":1,"r":2,"g":-17},{"p":16,"x":1.5,"r":-5},{"p":16,"x":2,"r":-10,"g":-21},{"p":16,"x":2.5,"r":-10},{"p":16,"x":3,"r":-12,"g":-21},{"p":16,"x":3.5,"r":-20},{"p":16,"x":4,"k":-25,"r":-25,"g":-21},{"p":16,"x":4.5,"k":-30,"r":-24},{"p":16,"x":5,"k":-22,"r":-23,"g":-20},{"p":16,"x":5.5,"k":-28,"r":-21},{"p":16,"x":6,"k":-20,"r":-20,"g":-18},{"p":16,"x":6.5,"r":-19},{"p":16,"x":7,"k":-15,"r":-19,"g":-15},{"p":16,"x":7.5,"r":-17},{"p":16,"x":8,"k":-10,"r":-15,"g":-14},{"p":16,"x":8.5,"k":5,"r":-14},{"p":16,"x":9,"k":2,"r":-13,"g":-13},{"p":16,"x":9.5,"k":10,"r":-12},{"p":16,"x":10,"k":8,"r":-10,"g":-10},{"p":16,"x":10.5,"k":5,"r":-5},{"p":16,"x":11,"k":-2,"r":-12,"g":-2},{"p":16,"x":11.5,"k":0,"r":-10},{"p":16,"x":12,"k":2,"r":-6,"g":8},{"p":16,"x":12.5,"k":5,"r":-2},{"p":16,"x":13,"k":7,"r":2,"g":15},{"p":16,"x":13.5,"k":9,"r":5},{"p":16,"x":14,"k":11,"r":8,"g":20},{"p":16,"x":14.5,"k":14,"r":10},{"p":16,"x":15,"k":16,"r":12,"g":24},{"p":16,"x":15.5,"k":17,"r":14},{"p":16,"x":16,"k":18,"r":15,"g":24},{"p":16,"x":16.5,"k":19,"r":14},{"p":16,"x":17,"k":20,"r":13,"g":21},{"p":16,"x":17.5,"k":22,"r":12},{"p":16,"x":18,"k":22,"r":12,"g":16},{"p":16,"x":18.5,"k":21,"r":11},{"p":16,"x":19,"k":20,"r":10,"g":12},{"p":16,"x":19.5,"k":19,"r":9},{"p":16,"x":20,"k":20,"r":9,"g":10},{"p":16,"x":20.5,"k":19,"r":8},{"p":16,"x":21,"k":18,"r":8,"g":9},{"p":16,"x":21.5,"k":12,"r":8},{"p":16,"x":22,"k":20,"r":8,"g":10},{"p":16,"x":22.5,"r":8},{"p":16,"x":23,"k":-5,"r":8,"g":20},{"p":16,"x":23.5,"r":8,"g":22},{"p":16,"x":24,"k":48,"r":10,"g":20},
{"p":17,"x":0,"k":45,"r":25,"g":45},{"p":17,"x":0.5,"r":32,"g":35},{"p":17,"x":1,"k":22,"r":28,"g":20},{"p":17,"x":1.5,"k":15,"r":18},{"p":17,"x":2,"k":22,"r":12,"g":-5},{"p":17,"x":2.5,"k":-22,"r":5},{"p":17,"x":3,"r":0,"g":-18},{"p":17,"x":3.5,"r":-5},{"p":17,"x":4,"k":-15,"r":-12,"g":-24},{"p":17,"x":4.5,"k":-27,"r":-22},{"p":17,"x":5,"k":-10,"r":-22,"g":-25},{"p":17,"x":5.5,"k":-8,"r":-22},{"p":17,"x":6,"k":-6,"r":-22,"g":-25},{"p":17,"x":6.5,"r":-22},{"p":17,"x":7,"k":-28,"r":-22,"g":-25},{"p":17,"x":7.5,"k":-38,"r":-21},{"p":17,"x":8,"k":-40,"r":-19,"g":-25},{"p":17,"x":8.5,"k":-45,"r":-27},{"p":17,"x":9,"k":-40,"r":-25,"g":-24},{"p":17,"x":9.5,"k":-25,"r":-24},{"p":17,"x":10,"k":-18,"r":-22,"g":-17},{"p":17,"x":10.5,"k":0,"r":-8},{"p":17,"x":11,"k":3,"r":0,"g":-5},{"p":17,"x":11.5,"k":0,"r":2},{"p":17,"x":12,"k":0,"r":3,"g":5},{"p":17,"x":12.5,"k":1,"r":4},{"p":17,"x":13,"k":2,"r":5,"g":11},{"p":17,"x":13.5,"k":6,"r":8},{"p":17,"x":14,"k":8,"r":10,"g":14},{"p":17,"x":14.5,"k":7,"r":12},{"p":17,"x":15,"k":5,"r":12,"g":16},{"p":17,"x":15.5,"k":3,"r":12},{"p":17,"x":16,"k":2,"r":12,"g":17},{"p":17,"x":16.5,"k":4,"r":11},{"p":17,"x":17,"k":5,"r":10,"g":16},{"p":17,"x":17.5,"k":4,"r":8},{"p":17,"x":18,"k":6,"r":6,"g":14},{"p":17,"x":18.5,"k":8,"r":5},{"p":17,"x":19,"k":10,"r":5,"g":12},{"p":17,"x":19.5,"k":11,"r":6},{"p":17,"x":20,"k":12,"r":7,"g":10},{"p":17,"x":20.5,"k":14,"r":8},{"p":17,"x":21,"k":17,"r":10,"g":9},{"p":17,"x":21.5,"k":20,"r":13},{"p":17,"x":22,"k":20,"r":15,"g":9},{"p":17,"x":22.5,"k":18,"r":17},{"p":17,"x":23,"k":22,"r":20,"g":12},{"p":17,"x":23.5,"k":20,"r":22,"g":30},{"p":17,"x":24,"k":25,"r":30,"g":45},
{"p":18,"x":0,"k":32,"r":35,"g":17},{"p":18,"x":0.5,"k":36,"r":38,"g":10},{"p":18,"x":1,"r":12,"g":3},{"p":18,"x":1.5,"k":13,"r":-5},{"p":18,"x":2,"r":-12,"g":-5},{"p":18,"x":2.5,"r":-17},{"p":18,"x":3,"r":-22,"g":-11},{"p":18,"x":3.5,"r":-25},{"p":18,"x":4,"r":-27,"g":-14},{"p":18,"x":4.5,"r":-28},{"p":18,"x":5,"r":-30,"g":-16},{"p":18,"x":5.5,"k":-30,"r":-31},{"p":18,"x":6,"k":-18,"r":-32,"g":-17},{"p":18,"x":6.5,"k":-5,"r":-32},{"p":18,"x":7,"k":-2,"r":-32,"g":-17},{"p":18,"x":7.5,"k":-8,"r":-31},{"p":18,"x":8,"k":-12,"r":-30,"g":-17},{"p":18,"x":8.5,"k":-15,"r":-29},{"p":18,"x":9,"k":-20,"r":-27,"g":-18},{"p":18,"x":9.5,"k":-25,"r":-25},{"p":18,"x":10,"k":-33,"r":-24,"g":-15},{"p":18,"x":10.5,"r":-10},{"p":18,"x":11,"k":-15,"r":-5,"g":-5},{"p":18,"x":11.5,"k":-10,"r":0},{"p":18,"x":12,"k":-12,"r":3,"g":3},{"p":18,"x":12.5,"k":-5,"r":7},{"p":18,"x":13,"k":-3,"r":10,"g":9},{"p":18,"x":13.5,"k":0,"r":11},{"p":18,"x":14,"k":3,"r":12,"g":13},{"p":18,"x":14.5,"k":5,"r":13},{"p":18,"x":15,"k":6,"r":15,"g":16},{"p":18,"x":15.5,"k":8,"r":15},{"p":18,"x":16,"k":8,"r":14,"g":15},{"p":18,"x":16.5,"k":10,"r":13},{"p":18,"x":17,"k":10,"r":12,"g":12},{"p":18,"x":17.5,"k":11,"r":10},{"p":18,"x":18,"k":12,"r":8,"g":9},{"p":18,"x":18.5,"k":13,"r":6},{"p":18,"x":19,"k":14,"r":5,"g":7},{"p":18,"x":19.5,"k":15,"r":4},{"p":18,"x":20,"k":15,"r":3,"g":5},{"p":18,"x":20.5,"k":15,"r":3},{"p":18,"x":21,"k":15,"r":3,"g":4},{"p":18,"x":21.5,"k":16,"r":4},{"p":18,"x":22,"k":16,"r":5,"g":4},{"p":18,"x":22.5,"k":16,"r":7},{"p":18,"x":23,"k":17,"r":10,"g":6},{"p":18,"x":23.5,"k":18,"r":15,"g":12},{"p":18,"x":24,"k":20,"r":22,"g":18},
{"p":19,"x":0,"r":20,"g":8},{"p":19,"x":0.5,"r":17,"g":6},{"p":19,"x":1,"r":5,"g":3},{"p":19,"x":1.5,"r":0},{"p":19,"x":2,"r":-3,"g":-2},{"p":19,"x":2.5,"r":-4},{"p":19,"x":3,"r":-5,"g":-6},{"p":19,"x":3.5,"r":-8},{"p":19,"x":4,"r":-10,"g":-9},{"p":19,"x":4.5,"r":-12},{"p":19,"x":5,"k":-5,"r":-15,"g":-11},{"p":19,"x":5.5,"k":-10,"r":-12},{"p":19,"x":6,"k":-5,"r":-8,"g":-12},{"p":19,"x":6.5,"k":0,"r":-8},{"p":19,"x":7,"k":5,"r":-10,"g":-12},{"p":19,"x":7.5,"k":7,"r":-12},{"p":19,"x":8,"r":-15,"g":-13},{"p":19,"x":8.5,"r":-16},{"p":19,"x":9,"k":-10,"r":-18,"g":-14},{"p":19,"x":9.5,"k":-35,"r":-18},{"p":19,"x":10,"k":-5,"r":-18,"g":-8},{"p":19,"x":10.5,"k":5,"r":-10},{"p":19,"x":11,"k":10,"r":-5,"g":0},{"p":19,"x":11.5,"k":8,"r":-2},{"p":19,"x":12,"k":10,"r":0,"g":6},{"p":19,"x":12.5,"k":11,"r":3},{"p":19,"x":13,"k":12,"r":6,"g":10},{"p":19,"x":13.5,"k":13,"r":8},{"p":19,"x":14,"k":15,"r":10,"g":13},{"p":19,"x":14.5,"k":17,"r":12},{"p":19,"x":15,"k":18,"r":13,"g":15},{"p":19,"x":15.5,"k":16,"r":13},{"p":19,"x":16,"k":13,"r":13,"g":14},{"p":19,"x":16.5,"k":8,"r":11},{"p":19,"x":17,"k":5,"r":10,"g":11},{"p":19,"x":17.5,"k":5,"r":8},{"p":19,"x":18,"k":5,"r":7,"g":8},{"p":19,"x":18.5,"k":5,"r":6},{"p":19,"x":19,"k":5,"r":5,"g":5},{"p":19,"x":19.5,"k":3,"r":4},{"p":19,"x":20,"k":2,"r":3,"g":3},{"p":19,"x":20.5,"k":1,"r":3},{"p":19,"x":21,"k":-5,"r":4,"g":2},{"p":19,"x":21.5,"k":5,"r":5},{"p":19,"x":22,"k":3,"r":6,"g":4},{"p":19,"x":22.5,"k":5,"r":8},{"p":19,"x":23,"k":5,"r":10,"g":6},{"p":19,"x":23.5,"k":7,"r":15},{"p":19,"x":24,"k":8,"r":19,"g":8},
{"p":20,"x":0,"r":5,"g":5},{"p":20,"x":0.5,"r":3,"g":3},{"p":20,"x":1,"r":0,"g":2},{"p":20,"x":1.5,"r":-3},{"p":20,"x":2,"r":-5,"g":-3},{"p":20,"x":2.5,"r":-5},{"p":20,"x":3,"r":-5,"g":-6},{"p":20,"x":3.5,"r":-6},{"p":20,"x":4,"r":-7,"g":-9},{"p":20,"x":4.5,"r":-10},{"p":20,"x":5,"r":-12,"g":-11},{"p":20,"x":5.5,"k":-13,"r":-12},{"p":20,"x":6,"k":5,"r":-13,"g":-12},{"p":20,"x":6.5,"r":-13},{"p":20,"x":7,"k":5,"r":-14,"g":-12},{"p":20,"x":7.5,"k":5,"r":-15},{"p":20,"x":8,"k":-33,"r":-17,"g":-13},{"p":20,"x":8.5,"k":-13,"r":-16},{"p":20,"x":9,"k":-15,"r":-15,"g":-15},{"p":20,"x":9.5,"r":-15},{"p":20,"x":10,"k":3,"r":-14,"g":-10},{"p":20,"x":10.5,"r":-12},{"p":20,"x":11,"k":15,"r":-10,"g":-2},{"p":20,"x":11.5,"k":-5,"r":-6},{"p":20,"x":12,"k":-15,"r":-2,"g":5},{"p":20,"x":12.5,"k":-5,"r":2},{"p":20,"x":13,"k":5,"r":5,"g":10},{"p":20,"x":13.5,"k":10,"r":9},{"p":20,"x":14,"k":15,"r":12,"g":14},{"p":20,"x":14.5,"k":17,"r":14},{"p":20,"x":15,"k":17,"r":15,"g":16},{"p":20,"x":15.5,"k":16,"r":14},{"p":20,"x":16,"k":12,"r":12,"g":15},{"p":20,"x":16.5,"k":11,"r":11},{"p":20,"x":17,"k":10,"r":10,"g":12},{"p":20,"x":17.5,"k":8,"r":9},{"p":20,"x":18,"k":5,"r":8,"g":8},{"p":20,"x":18.5,"k":2,"r":6},{"p":20,"x":19,"k":0,"r":5,"g":4},{"p":20,"x":19.5,"k":-5,"r":3},{"p":20,"x":20,"k":-8,"r":2,"g":1},{"p":20,"x":20.5,"k":-7,"r":3},{"p":20,"x":21,"k":3,"r":5,"g":1},{"p":20,"x":21.5,"k":7,"r":5},{"p":20,"x":22,"k":10,"r":5,"g":2},{"p":20,"x":22.5,"k":13,"r":5},{"p":20,"x":23,"k":15,"r":5,"g":4},{"p":20,"x":23.5,"k":17,"r":6},{"p":20,"x":24,"k":20,"r":7,"g":6}
]},
"columns":4,
"bounds":"flush",
"spacing":{"row":20.5,"column":16},
"concat":[
{"title":"Year - 2000, DOY - 76, F₁₀.₇ - 182.5","width":289,"height":100,"transform":[{"filter":"datum.p==1"}],"encoding":{"x":{"field":"x","type":"quantitative","scale":{"domain":[0,24],"nice":false},"axis":{"values":[0,4,8,12,16,20,24],"labels":false,"title":null}}},"layer":[{"mark":"circle","encoding":{"y":{"field":"k","type":"quantitative","scale":{"domain":[-50,50],"nice":false},"axis":{"values":[-50,-25,0,25,50],"labels":true,"title":null}}}},{"mark":{"type":"line","color":"red","strokeWidth":1.3,"point":{"shape":"square","size":7,"color":"red","filled":true,"opacity":1}},"encoding":{"y":{"field":"r","type":"quantitative","title":null}}},{"mark":{"type":"line","color":"green","strokeWidth":1.5,"interpolate":"monotone"},"encoding":{"y":{"field":"g","type":"quantitative","title":null}}}]},
{"title":"Year - 2000, DOY - 349, F₁₀.₇ - 176.5","width":289,"height":100,"transform":[{"filter":"datum.p==2"}],"encoding":{"x":{"field":"x","type":"quantitative","scale":{"domain":[0,24],"nice":false},"axis":{"values":[0,4,8,12,16,20,24],"labels":false,"title":null}}},"layer":[{"mark":"circle","encoding":{"y":{"field":"k","type":"quantitative","scale":{"domain":[-50,50],"nice":false},"axis":{"values":[-50,-25,0,25,50],"labels":false,"title":null}}}},{"mark":{"type":"line","color":"red","strokeWidth":1.3,"point":{"shape":"square","size":7,"color":"red","filled":true,"opacity":1}},"encoding":{"y":{"field":"r","type":"quantitative","title":null}}},{"mark":{"type":"line","color":"green","strokeWidth":1.5,"interpolate":"monotone"},"encoding":{"y":{"field":"g","type":"quantitative","title":null}}}]},
{"title":"Year - 2001, DOY - 262, F₁₀.₇ - 200.6","width":289,"height":100,"transform":[{"filter":"datum.p==3"}],"encoding":{"x":{"field":"x","type":"quantitative","scale":{"domain":[0,24],"nice":false},"axis":{"values":[0,4,8,12,16,20,24],"labels":false,"title":null}}},"layer":[{"mark":"circle","encoding":{"y":{"field":"k","type":"quantitative","scale":{"domain":[-50,50],"nice":false},"axis":{"values":[-50,-25,0,25,50],"labels":false,"title":null}}}},{"mark":{"type":"line","color":"red","strokeWidth":1.3,"point":{"shape":"square","size":7,"color":"red","filled":true,"opacity":1}},"encoding":{"y":{"field":"r","type":"quantitative","title":null}}},{"mark":{"type":"line","color":"green","strokeWidth":1.5,"interpolate":"monotone"},"encoding":{"y":{"field":"g","type":"quantitative","title":null}}}]},
{"title":"Year - 2001, DOY - 347, F₁₀.₇ - 213.4","width":289,"height":100,"transform":[{"filter":"datum.p==4"}],"encoding":{"x":{"field":"x","type":"quantitative","scale":{"domain":[0,24],"nice":false},"axis":{"values":[0,4,8,12,16,20,24],"labels":false,"title":null}}},"layer":[{"mark":"circle","encoding":{"y":{"field":"k","type":"quantitative","scale":{"domain":[-50,50],"nice":false},"axis":{"values":[-50,-25,0,25,50],"labels":false,"title":null}}}},{"mark":{"type":"line","color":"red","strokeWidth":1.3,"point":{"shape":"square","size":7,"color":"red","filled":true,"opacity":1}},"encoding":{"y":{"field":"r","type":"quantitative","title":null}}},{"mark":{"type":"line","color":"green","strokeWidth":1.5,"interpolate":"monotone"},"encoding":{"y":{"field":"g","type":"quantitative","title":null}}}]},
{"title":"Year - 2002, DOY - 316, F₁₀.₇ - 174.6","width":289,"height":100,"transform":[{"filter":"datum.p==5"}],"encoding":{"x":{"field":"x","type":"quantitative","scale":{"domain":[0,24],"nice":false},"axis":{"values":[0,4,8,12,16,20,24],"labels":false,"title":null}}},"layer":[{"mark":"circle","encoding":{"y":{"field":"k","type":"quantitative","scale":{"domain":[-50,50],"nice":false},"axis":{"values":[-50,-25,0,25,50],"labels":true,"title":null}}}},{"mark":{"type":"line","color":"red","strokeWidth":1.3,"point":{"shape":"square","size":7,"color":"red","filled":true,"opacity":1}},"encoding":{"y":{"field":"r","type":"quantitative","title":null}}},{"mark":{"type":"line","color":"green","strokeWidth":1.5,"interpolate":"monotone"},"encoding":{"y":{"field":"g","type":"quantitative","title":null}}}]},
{"title":"Year - 2005, DOY - 88, F₁₀.₇ - 78.6","width":289,"height":100,"transform":[{"filter":"datum.p==6"}],"encoding":{"x":{"field":"x","type":"quantitative","scale":{"domain":[0,24],"nice":false},"axis":{"values":[0,4,8,12,16,20,24],"labels":false,"title":null}}},"layer":[{"mark":"circle","encoding":{"y":{"field":"k","type":"quantitative","scale":{"domain":[-50,50],"nice":false},"axis":{"values":[-50,-25,0,25,50],"labels":false,"title":null}}}},{"mark":{"type":"line","color":"red","strokeWidth":1.3,"point":{"shape":"square","size":7,"color":"red","filled":true,"opacity":1}},"encoding":{"y":{"field":"r","type":"quantitative","title":null}}},{"mark":{"type":"line","color":"green","strokeWidth":1.5,"interpolate":"monotone"},"encoding":{"y":{"field":"g","type":"quantitative","title":null}}}]},
{"title":"Year - 2006, DOY - 92, F₁₀.₇ - 91.1","width":289,"height":100,"transform":[{"filter":"datum.p==7"}],"encoding":{"x":{"field":"x","type":"quantitative","scale":{"domain":[0,24],"nice":false},"axis":{"values":[0,4,8,12,16,20,24],"labels":false,"title":null}}},"layer":[{"mark":"circle","encoding":{"y":{"field":"k","type":"quantitative","scale":{"domain":[-50,50],"nice":false},"axis":{"values":[-50,-25,0,25,50],"labels":false,"title":null}}}},{"mark":{"type":"line","color":"red","strokeWidth":1.3,"point":{"shape":"square","size":7,"color":"red","filled":true,"opacity":1}},"encoding":{"y":{"field":"r","type":"quantitative","title":null}}},{"mark":{"type":"line","color":"green","strokeWidth":1.5,"interpolate":"monotone"},"encoding":{"y":{"field":"g","type":"quantitative","title":null}}}]},
{"title":"Year - 2007, DOY - 350, F₁₀.₇ - 79.1","width":289,"height":100,"transform":[{"filter":"datum.p==8"}],"encoding":{"x":{"field":"x","type":"quantitative","scale":{"domain":[0,24],"nice":false},"axis":{"values":[0,4,8,12,16,20,24],"labels":false,"title":null}}},"layer":[{"mark":"circle","encoding":{"y":{"field":"k","type":"quantitative","scale":{"domain":[-50,50],"nice":false},"axis":{"values":[-50,-25,0,25,50],"labels":false,"title":null}}}},{"mark":{"type":"line","color":"red","strokeWidth":1.3,"point":{"shape":"square","size":7,"color":"red","filled":true,"opacity":1}},"encoding":{"y":{"field":"r","type":"quantitative","title":null}}},{"mark":{"type":"line","color":"green","strokeWidth":1.5,"interpolate":"monotone"},"encoding":{"y":{"field":"g","type":"quantitative","title":null}}}]},
{"title":"Year - 2009, DOY - 133, F₁₀.₇ - 75.3","width":289,"height":100,"transform":[{"filter":"datum.p==9"}],"encoding":{"x":{"field":"x","type":"quantitative","scale":{"domain":[0,24],"nice":false},"axis":{"values":[0,4,8,12,16,20,24],"labels":false,"title":null}}},"layer":[{"mark":"circle","encoding":{"y":{"field":"k","type":"quantitative","scale":{"domain":[-50,50],"nice":false},"axis":{"values":[-50,-25,0,25,50],"labels":true,"title":null}}}},{"mark":{"type":"line","color":"red","strokeWidth":1.3,"point":{"shape":"square","size":7,"color":"red","filled":true,"opacity":1}},"encoding":{"y":{"field":"r","type":"quantitative","title":null}}},{"mark":{"type":"line","color":"green","strokeWidth":1.5,"interpolate":"monotone"},"encoding":{"y":{"field":"g","type":"quantitative","title":null}}}]},
{"title":"Year - 2009, DOY - 266, F₁₀.₇ - 76.6","width":289,"height":100,"transform":[{"filter":"datum.p==10"}],"encoding":{"x":{"field":"x","type":"quantitative","scale":{"domain":[0,24],"nice":false},"axis":{"values":[0,4,8,12,16,20,24],"labels":false,"title":null}}},"layer":[{"mark":"circle","encoding":{"y":{"field":"k","type":"quantitative","scale":{"domain":[-50,50],"nice":false},"axis":{"values":[-50,-25,0,25,50],"labels":false,"title":null}}}},{"mark":{"type":"line","color":"red","strokeWidth":1.3,"point":{"shape":"square","size":7,"color":"red","filled":true,"opacity":1}},"encoding":{"y":{"field":"r","type":"quantitative","title":null}}},{"mark":{"type":"line","color":"green","strokeWidth":1.5,"interpolate":"monotone"},"encoding":{"y":{"field":"g","type":"quantitative","title":null}}}]},
{"title":"Year - 2010, DOY - 33, F₁₀.₇ - 73.0","width":289,"height":100,"transform":[{"filter":"datum.p==11"}],"encoding":{"x":{"field":"x","type":"quantitative","scale":{"domain":[0,24],"nice":false},"axis":{"values":[0,4,8,12,16,20,24],"labels":false,"title":null}}},"layer":[{"mark":"circle","encoding":{"y":{"field":"k","type":"quantitative","scale":{"domain":[-50,50],"nice":false},"axis":{"values":[-50,-25,0,25,50],"labels":false,"title":null}}}},{"mark":{"type":"line","color":"red","strokeWidth":1.3,"point":{"shape":"square","size":7,"color":"red","filled":true,"opacity":1}},"encoding":{"y":{"field":"r","type":"quantitative","title":null}}},{"mark":{"type":"line","color":"green","strokeWidth":1.5,"interpolate":"monotone"},"encoding":{"y":{"field":"g","type":"quantitative","title":null}}}]},
{"title":"Year - 2010, DOY - 131, F₁₀.₇ - 75.0","width":289,"height":100,"transform":[{"filter":"datum.p==12"}],"encoding":{"x":{"field":"x","type":"quantitative","scale":{"domain":[0,24],"nice":false},"axis":{"values":[0,4,8,12,16,20,24],"labels":false,"title":null}}},"layer":[{"mark":"circle","encoding":{"y":{"field":"k","type":"quantitative","scale":{"domain":[-50,50],"nice":false},"axis":{"values":[-50,-25,0,25,50],"labels":false,"title":null}}}},{"mark":{"type":"line","color":"red","strokeWidth":1.3,"point":{"shape":"square","size":7,"color":"red","filled":true,"opacity":1}},"encoding":{"y":{"field":"r","type":"quantitative","title":null}}},{"mark":{"type":"line","color":"green","strokeWidth":1.5,"interpolate":"monotone"},"encoding":{"y":{"field":"g","type":"quantitative","title":null}}}]},
{"title":"Year - 2011, DOY - 214, F₁₀.₇ - 125.2","width":289,"height":100,"transform":[{"filter":"datum.p==13"}],"encoding":{"x":{"field":"x","type":"quantitative","scale":{"domain":[0,24],"nice":false},"axis":{"values":[0,4,8,12,16,20,24],"labels":false,"title":null}}},"layer":[{"mark":"circle","encoding":{"y":{"field":"k","type":"quantitative","scale":{"domain":[-50,50],"nice":false},"axis":{"values":[-50,-25,0,25,50],"labels":true,"title":null}}}},{"mark":{"type":"line","color":"red","strokeWidth":1.3,"point":{"shape":"square","size":7,"color":"red","filled":true,"opacity":1}},"encoding":{"y":{"field":"r","type":"quantitative","title":null}}},{"mark":{"type":"line","color":"green","strokeWidth":1.5,"interpolate":"monotone"},"encoding":{"y":{"field":"g","type":"quantitative","title":null}}}]},
{"title":"Year - 2012, DOY - 167, F₁₀.₇ - 149.6","width":289,"height":100,"transform":[{"filter":"datum.p==14"}],"encoding":{"x":{"field":"x","type":"quantitative","scale":{"domain":[0,24],"nice":false},"axis":{"values":[0,4,8,12,16,20,24],"labels":false,"title":null}}},"layer":[{"mark":"circle","encoding":{"y":{"field":"k","type":"quantitative","scale":{"domain":[-50,50],"nice":false},"axis":{"values":[-50,-25,0,25,50],"labels":false,"title":null}}}},{"mark":{"type":"line","color":"red","strokeWidth":1.3,"point":{"shape":"square","size":7,"color":"red","filled":true,"opacity":1}},"encoding":{"y":{"field":"r","type":"quantitative","title":null}}},{"mark":{"type":"line","color":"green","strokeWidth":1.5,"interpolate":"monotone"},"encoding":{"y":{"field":"g","type":"quantitative","title":null}}}]},
{"title":"Year - 2013, DOY - 108, F₁₀.₇ - 105.9","width":289,"height":100,"transform":[{"filter":"datum.p==15"}],"encoding":{"x":{"field":"x","type":"quantitative","scale":{"domain":[0,24],"nice":false},"axis":{"values":[0,4,8,12,16,20,24],"labels":false,"title":null}}},"layer":[{"mark":"circle","encoding":{"y":{"field":"k","type":"quantitative","scale":{"domain":[-50,50],"nice":false},"axis":{"values":[-50,-25,0,25,50],"labels":false,"title":null}}}},{"mark":{"type":"line","color":"red","strokeWidth":1.3,"point":{"shape":"square","size":7,"color":"red","filled":true,"opacity":1}},"encoding":{"y":{"field":"r","type":"quantitative","title":null}}},{"mark":{"type":"line","color":"green","strokeWidth":1.5,"interpolate":"monotone"},"encoding":{"y":{"field":"g","type":"quantitative","title":null}}}]},
{"title":"Year - 2013, DOY - 268, F₁₀.₇ - 111.7","width":289,"height":100,"transform":[{"filter":"datum.p==16"}],"encoding":{"x":{"field":"x","type":"quantitative","scale":{"domain":[0,24],"nice":false},"axis":{"values":[0,4,8,12,16,20,24],"labels":false,"title":null}}},"layer":[{"mark":"circle","encoding":{"y":{"field":"k","type":"quantitative","scale":{"domain":[-50,50],"nice":false},"axis":{"values":[-50,-25,0,25,50],"labels":false,"title":null}}}},{"mark":{"type":"line","color":"red","strokeWidth":1.3,"point":{"shape":"square","size":7,"color":"red","filled":true,"opacity":1}},"encoding":{"y":{"field":"r","type":"quantitative","title":null}}},{"mark":{"type":"line","color":"green","strokeWidth":1.5,"interpolate":"monotone"},"encoding":{"y":{"field":"g","type":"quantitative","title":null}}}]},
{"title":"Year - 2014, DOY - 352, F₁₀.₇ - 206.4","width":289,"height":100,"transform":[{"filter":"datum.p==17"}],"encoding":{"x":{"field":"x","type":"quantitative","scale":{"domain":[0,24],"nice":false},"axis":{"values":[0,4,8,12,16,20,24],"labels":true,"title":"Universal Time"}}},"layer":[{"mark":"circle","encoding":{"y":{"field":"k","type":"quantitative","scale":{"domain":[-50,50],"nice":false},"axis":{"values":[-50,-25,0,25,50],"labels":true,"title":"Vertical Drifts (m/s)"}}}},{"mark":{"type":"line","color":"red","strokeWidth":1.3,"point":{"shape":"square","size":7,"color":"red","filled":true,"opacity":1}},"encoding":{"y":{"field":"r","type":"quantitative","title":"Vertical Drifts (m/s)"}}},{"mark":{"type":"line","color":"green","strokeWidth":1.5,"interpolate":"monotone"},"encoding":{"y":{"field":"g","type":"quantitative","title":"Vertical Drifts (m/s)"}}}]},
{"title":"Year - 2015, DOY - 45, F₁₀.₇ - 117.4","width":289,"height":100,"transform":[{"filter":"datum.p==18"}],"encoding":{"x":{"field":"x","type":"quantitative","scale":{"domain":[0,24],"nice":false},"axis":{"values":[0,4,8,12,16,20,24],"labels":true,"title":null}}},"layer":[{"mark":"circle","encoding":{"y":{"field":"k","type":"quantitative","scale":{"domain":[-50,50],"nice":false},"axis":{"values":[-50,-25,0,25,50],"labels":false,"title":null}}}},{"mark":{"type":"line","color":"red","strokeWidth":1.3,"point":{"shape":"square","size":7,"color":"red","filled":true,"opacity":1}},"encoding":{"y":{"field":"r","type":"quantitative","title":null}}},{"mark":{"type":"line","color":"green","strokeWidth":1.5,"interpolate":"monotone"},"encoding":{"y":{"field":"g","type":"quantitative","title":null}}}]},
{"title":"Year - 2016, DOY - 334, F₁₀.₇ - 83.1","width":289,"height":100,"transform":[{"filter":"datum.p==19"}],"encoding":{"x":{"field":"x","type":"quantitative","scale":{"domain":[0,24],"nice":false},"axis":{"values":[0,4,8,12,16,20,24],"labels":true,"title":null}}},"layer":[{"mark":"circle","encoding":{"y":{"field":"k","type":"quantitative","scale":{"domain":[-50,50],"nice":false},"axis":{"values":[-50,-25,0,25,50],"labels":false,"title":null}}}},{"mark":{"type":"line","color":"red","strokeWidth":1.3,"point":{"shape":"square","size":7,"color":"red","filled":true,"opacity":1}},"encoding":{"y":{"field":"r","type":"quantitative","title":null}}},{"mark":{"type":"line","color":"green","strokeWidth":1.5,"interpolate":"monotone"},"encoding":{"y":{"field":"g","type":"quantitative","title":null}}}]},
{"title":"Year - 2018, DOY - 47, F₁₀.₇ - 69.8","width":289,"height":100,"transform":[{"filter":"datum.p==20"}],"encoding":{"x":{"field":"x","type":"quantitative","scale":{"domain":[0,24],"nice":false},"axis":{"values":[0,4,8,12,16,20,24],"labels":true,"title":null}}},"layer":[{"mark":"circle","encoding":{"y":{"field":"k","type":"quantitative","scale":{"domain":[-50,50],"nice":false},"axis":{"values":[-50,-25,0,25,50],"labels":false,"title":null}}}},{"mark":{"type":"line","color":"red","strokeWidth":1.3,"point":{"shape":"square","size":7,"color":"red","filled":true,"opacity":1}},"encoding":{"y":{"field":"r","type":"quantitative","title":null}}},{"mark":{"type":"line","color":"green","strokeWidth":1.5,"interpolate":"monotone"},"encoding":{"y":{"field":"g","type":"quantitative","title":null}}}]}
],
"config":{
"view":{"stroke":"#262626","strokeWidth":1},
"axis":{"domain":false,"grid":true,"gridColor":"#d6d6d6","gridWidth":0.8,"ticks":true,"tickColor":"#262626","tickSize":3.5,"tickWidth":0.8,"labelFont":"DejaVu Sans","labelFontSize":11,"labelColor":"#262626","labelPadding":2,"labelFlush":false,"labelOverlap":false,"titleFont":"DejaVu Sans","titleFontSize":11,"titleFontWeight":"normal","titleColor":"#262626"},
"axisY":{"titlePadding":4},
"axisX":{"titlePadding":3},
"title":{"font":"DejaVu Sans","fontSize":10.5,"fontWeight":"normal","color":"#262626","offset":4},
"circle":{"size":9,"color":"black","opacity":1},
"mark":{"invalid":"filter"}
}
}
